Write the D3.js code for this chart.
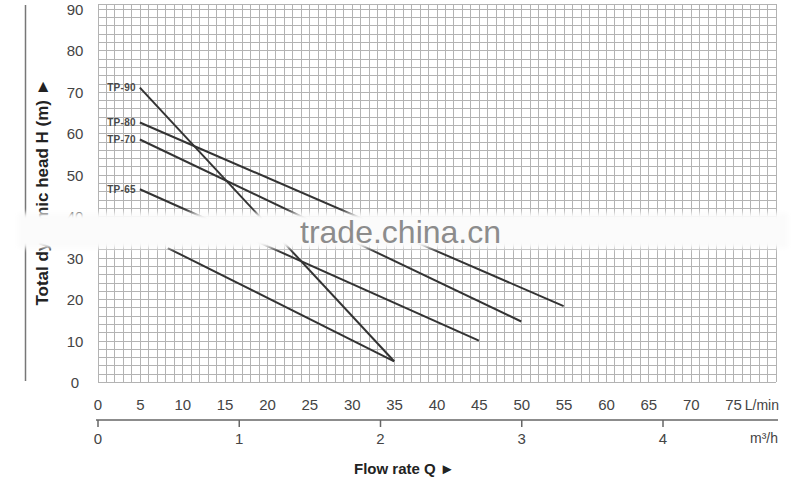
<!DOCTYPE html>
<html><head><meta charset="utf-8">
<script src="https://cdn.jsdelivr.net/npm/d3@7"></script>
<style>body{margin:0;background:#fff}svg{display:block;font-family:"Liberation Sans",Arial,sans-serif}</style>
</head><body><svg id="c" width="800" height="485"></svg>
<script>
// ---- data ----
const seriesNames = ["TP-90", "TP-80", "TP-70", "TP-65", ""];
const flowStart = [5, 5, 5, 5, 8.3];        // L/min
const headStart = [71, 62.6, 58.5, 46.5, 32.3]; // m
const flowEnd   = [35, 55, 50, 45, 35];     // L/min
const headEnd   = [5, 18.3, 14.6, 10, 5];   // m
const flowTicksLmin = [0,5,10,15,20,25,30,35,40,45,50,55,60,65,70,75];
const flowTicksM3h = [0,1,2,3,4];
const headTicks = [0,10,20,30,40,50,60,70,80,90];

const svg = d3.select("#c");
svg.append("rect").attr("width",800).attr("height",485).attr("fill","#fff");

const x = d3.scaleLinear().domain([0,80]).range([97.5,775.5]);
const xm = d3.scaleLinear().domain([0,80*60/1000]).range([97.5,775.5]);
const y = d3.scaleLinear().domain([0,91.3]).range([382,3.5]);

// grid
const grid = svg.append("g").attr("stroke","#b3b3b3").attr("stroke-width",1).attr("shape-rendering","crispEdges");
grid.selectAll("line.v").data(d3.range(0,81,1)).join("line")
  .attr("x1",d=>Math.round(x(d))+0.5).attr("x2",d=>Math.round(x(d))+0.5)
  .attr("y1",y(91.3)).attr("y2",y(0));
grid.selectAll("line.h").data(d3.range(0,91,2).concat([91.3])).join("line")
  .attr("y1",d=>Math.round(y(d))+0.5).attr("y2",d=>Math.round(y(d))+0.5)
  .attr("x1",x(0)).attr("x2",x(80));

// curves
const curves = seriesNames.map((n,i)=>({name:n, pts:[[flowStart[i],headStart[i]],[flowEnd[i],headEnd[i]]]}));
const line = d3.line().x(d=>x(d[0])).y(d=>y(d[1]));
svg.append("g").selectAll("path").data(curves).join("path")
  .attr("d",d=>line(d.pts)).attr("fill","none").attr("stroke","#333").attr("stroke-width",2);
svg.append("g").selectAll("text").data(curves.filter(c=>c.name)).join("text")
  .attr("x",d=>x(d.pts[0][0])-4).attr("y",d=>y(d.pts[0][1])+3.5)
  .attr("text-anchor","end").attr("font-size",10).attr("font-weight","bold").attr("fill","#4a4a4a")
  .attr("letter-spacing",0.3)
  .text(d=>d.name);

// y tick labels
const ya = svg.append("g").call(d3.axisLeft(y).tickValues(headTicks).tickSize(0));
ya.select(".domain").remove();
ya.selectAll("text").attr("x",75).attr("dy",null).attr("y",5.5).attr("text-anchor","middle")
  .attr("font-size",15).attr("fill","#444").attr("font-family",null);

// x axis L/min labels
const xa = svg.append("g").call(d3.axisBottom(x).tickValues(flowTicksLmin).tickSize(0));
xa.select(".domain").remove();
xa.selectAll("text").attr("y",410).attr("dy",null).attr("font-size",15).attr("fill","#444").attr("font-family",null);
svg.append("text").attr("x",779).attr("y",410).attr("text-anchor","end").attr("font-size",14).attr("fill","#444").text("L/min");

// x axis m3/h
const xb = svg.append("g").attr("transform","translate(0,420)")
  .call(d3.axisBottom(xm).tickValues(flowTicksM3h).tickSizeInner(7).tickSizeOuter(0).tickPadding(6).tickFormat(d3.format("d")));
xb.select(".domain").attr("stroke","#666").attr("stroke-width",1.5).attr("d","M96,0H778");
xb.selectAll(".tick line").attr("stroke","#666").attr("stroke-width",1.5);
xb.selectAll("text").attr("font-size",15).attr("fill","#444").attr("font-family",null);
svg.append("text").attr("x",778).attr("y",443).attr("text-anchor","end").attr("font-size",14).attr("fill","#444").text("m³/h");

// left vertical rule
svg.append("line").attr("x1",25.5).attr("x2",25.5).attr("y1",5).attr("y2",381).attr("stroke","#777").attr("stroke-width",1.5);

// y title
svg.append("text").attr("transform","translate(48,192) rotate(-90)").attr("text-anchor","middle")
  .attr("font-size",17).attr("font-weight","bold").attr("fill","#222")
  .text("Total dynamic head H (m) ►");

// x title
svg.append("text").attr("x",354).attr("y",474).attr("font-size",15).attr("font-weight","bold").attr("fill","#222")
  .text("Flow rate Q  ►");

// watermark band
const defs = svg.append("defs");
defs.append("filter").attr("id","blur").attr("x","-5%").attr("y","-50%").attr("width","110%").attr("height","200%")
  .append("feGaussianBlur").attr("stdDeviation",2.5);
svg.append("rect").attr("x",18).attr("y",213).attr("width",770).attr("height",35)
  .attr("fill","#fbfbfb").attr("filter","url(#blur)");
svg.append("text").attr("x",300).attr("y",243).attr("font-size",32).attr("fill","#8c8c8c").text("trade.china.cn");
</script></body></html>
